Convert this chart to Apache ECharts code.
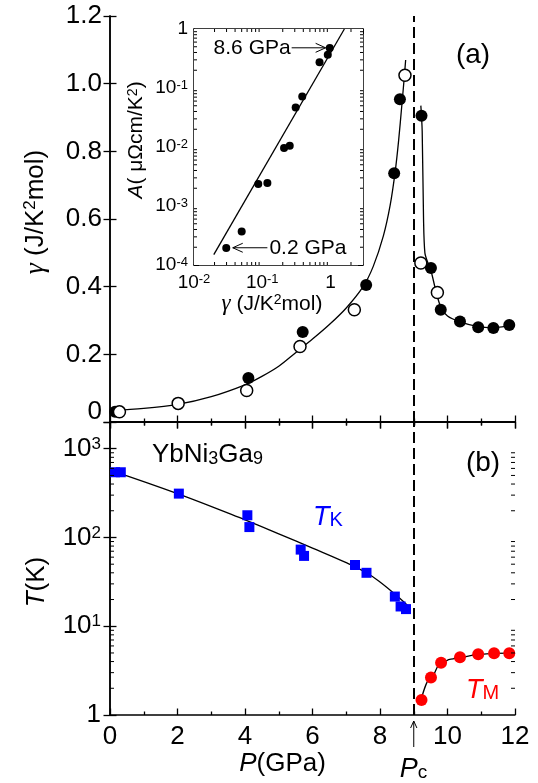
<!DOCTYPE html>
<html>
<head>
<meta charset="utf-8">
<script src="https://cdn.jsdelivr.net/npm/echarts@6/dist/echarts.min.js"></script>
<style>
  html, body { margin: 0; padding: 0; background: #fff; }
  #chart { width: 538px; height: 783px; }
</style>
</head>
<body>
<div id="chart"></div>
<script>
// (a) gamma vs pressure
var gammaFilledP = [0.15, 4.1, 5.71, 7.59, 8.42, 8.59, 9.23, 9.51, 9.8, 10.37, 10.91, 11.36, 11.83];
var gammaFilled  = [0.03, 0.13, 0.266, 0.405, 0.735, 0.954, 0.905, 0.455, 0.332, 0.297, 0.28, 0.278, 0.287];
var gammaOpenP   = [0.28, 2.02, 4.05, 5.63, 7.24, 8.74, 9.21, 9.7];
var gammaOpen    = [0.03, 0.055, 0.093, 0.223, 0.332, 1.025, 0.47, 0.383];
var fitLeftP  = [0, 1, 2, 3, 4, 4.5, 5, 5.5, 6, 6.5, 7, 7.5, 7.8, 8.1, 8.3, 8.45, 8.55, 8.65, 8.72, 8.76];
var fitLeft   = [0.033, 0.04, 0.052, 0.075, 0.11, 0.135, 0.165, 0.205, 0.245, 0.288, 0.337, 0.4, 0.46, 0.55, 0.64, 0.74, 0.83, 0.94, 1.02, 1.07];
var fitRightP = [9.21, 9.25, 9.29, 9.33, 9.42, 9.51, 9.65, 9.8, 10.0, 10.37, 10.91, 11.36, 12];
var fitRight  = [0.935, 0.86, 0.6, 0.5, 0.47, 0.447, 0.39, 0.34, 0.313, 0.296, 0.282, 0.279, 0.288];

// (b) characteristic temperatures
var tkP    = [0.15, 0.32, 2.04, 4.07, 4.13, 5.65, 5.75, 7.26, 7.6, 8.44, 8.61, 8.77];
var tk     = [543, 543, 312, 178, 131, 73, 62, 49, 40, 21.6, 16.7, 15.6];
var tkFitP = [0, 2, 4, 5, 6, 7, 7.6, 8, 8.5, 8.9];
var tkFit  = [575, 312, 158, 110, 76, 52, 40, 31.5, 22, 16];
var tmP    = [9.23, 9.51, 9.81, 10.37, 10.91, 11.38, 11.83];
var tm     = [1.48, 2.64, 3.89, 4.48, 4.84, 4.97, 4.97];
var tmFitP = [9.2, 9.5, 9.8, 10.1, 10.4, 10.9, 11.4, 12];
var tmFit  = [1.4, 2.6, 3.85, 4.25, 4.5, 4.8, 4.95, 5.0];

// inset: A vs gamma
var insetGamma = [0.0297, 0.05, 0.0875, 0.119, 0.209, 0.253, 0.309, 0.386, 0.692, 0.914, 0.977];
var insetA     = [1.94e-4, 3.7e-4, 2.36e-3, 2.45e-3, 9.6e-3, 0.0105, 0.0469, 0.072, 0.272, 0.367, 0.476];
var insetFitGamma = [0.0195, 1.6];
var insetFitA     = [1.5e-4, 1.0];

// log minor tick positions
var minorMult = [2, 3, 4, 5, 6, 7, 8, 9];
var tDecades = [1, 10, 100, 1000];
var aDecades = [1e-4, 1e-3, 1e-2, 1e-1];
var gDecades = [0.01, 0.1, 1];

var FONT = '"Liberation Sans", Arial, sans-serif';
var SERIF = '"Liberation Serif", "Times New Roman", serif';

function pairs(xs, ys) {
  return xs.map(function (x, i) { return [x, ys[i]]; });
}

function minorValues(decades, max) {
  var out = [];
  decades.forEach(function (d) {
    minorMult.forEach(function (m) {
      var v = +(d * m).toPrecision(6);
      if (v < max) out.push(v);
    });
  });
  return out;
}

function expLabel(v) {
  var e = Math.round(Math.log10(v));
  return e === 0 ? '1' : '10{e|' + e + '}';
}

// inward log minor ticks on both opposite edges of a grid.
// dir 'y': ticks for the y axis (left+right), 'x': for the x axis (bottom+top)
function minorTicks(xi, yi, dir, values, other, len) {
  return {
    type: 'custom',
    xAxisIndex: xi,
    yAxisIndex: yi,
    silent: true,
    clip: false,
    z: 10,
    data: values.map(function (v) { return dir === 'y' ? [other, v] : [v, other]; }),
    renderItem: function (params, api) {
      var cs = params.coordSys;
      var p = api.coord([api.value(0), api.value(1)]);
      var st = { stroke: '#000', lineWidth: 1 };
      var a, b;
      if (dir === 'y') {
        a = { x1: cs.x, y1: p[1], x2: cs.x + len, y2: p[1] };
        b = { x1: cs.x + cs.width, y1: p[1], x2: cs.x + cs.width - len, y2: p[1] };
      } else {
        a = { x1: p[0], y1: cs.y + cs.height, x2: p[0], y2: cs.y + cs.height - len };
        b = { x1: p[0], y1: cs.y, x2: p[0], y2: cs.y + len };
      }
      return {
        type: 'group',
        children: [
          { type: 'line', shape: a, style: st },
          { type: 'line', shape: b, style: st }
        ]
      };
    }
  };
}

var axisLine = { show: true, lineStyle: { color: '#000', width: 1.5 } };
var tick = { show: true, inside: true, length: 6.5, lineStyle: { color: '#000', width: 1.3 } };
var smallTick = { show: true, inside: true, length: 5, lineStyle: { color: '#000', width: 1 } };
var noSplit = { show: false };
var dashed = { type: [11, 5], color: '#000', width: 2 };

function pAxis(grid, pos, labels) {
  return {
    type: 'value', gridIndex: grid, position: pos, min: 0, max: 12, interval: 2,
    axisLine: axisLine, axisTick: tick,
    minorTick: { show: true, splitNumber: 2, length: 3.5, lineStyle: { color: '#000', width: 1.3 } },
    splitLine: noSplit, minorSplitLine: { show: false },
    axisLabel: { show: labels, fontSize: 26, fontFamily: FONT, color: '#000', margin: 9 }
  };
}

var chart = echarts.init(document.getElementById('chart'));

var option = {
  animation: false,
  backgroundColor: '#fff',
  grid: [
    { left: 110, top: 16, width: 405, height: 406, outerBoundsMode: 'none' },
    { left: 110, top: 422, width: 405, height: 293, outerBoundsMode: 'none' },
    { left: 194, top: 29, width: 169, height: 236, outerBoundsMode: 'none',
      show: true, backgroundColor: '#fff', borderWidth: 0, z: 3 }
  ],
  xAxis: [
    pAxis(0, 'bottom', false),
    pAxis(0, 'top', false),
    Object.assign(pAxis(1, 'bottom', true), {
      name: '{p|P}(GPa)', nameLocation: 'middle', nameGap: 34,
      nameTextStyle: {
        fontSize: 26, fontFamily: FONT, color: '#000', padding: [0, 60, 0, 0],
        rich: { p: { fontSize: 26, fontFamily: FONT, fontStyle: 'italic' } }
      }
    }),
    pAxis(1, 'top', false),
    {
      type: 'log', gridIndex: 2, position: 'bottom', min: 0.01, max: 3, logBase: 10,
      axisLine: axisLine, axisTick: smallTick, splitLine: noSplit,
      axisLabel: {
        fontSize: 19, fontFamily: FONT, color: '#000', margin: 8, showMaxLabel: false,
        formatter: expLabel,
        rich: { e: { fontSize: 13, fontFamily: FONT, verticalAlign: 'top' } }
      },
      name: '{g|γ} (J/K{s|2}mol)', nameLocation: 'middle', nameGap: 23,
      nameTextStyle: {
        fontSize: 21, fontFamily: FONT, color: '#000', padding: [0, 13, 0, 0],
        rich: {
          g: { fontSize: 23, fontFamily: SERIF, fontStyle: 'italic' },
          s: { fontSize: 14, fontFamily: FONT, verticalAlign: 'top' }
        }
      }
    },
    {
      type: 'log', gridIndex: 2, position: 'top', min: 0.01, max: 3, logBase: 10,
      axisLine: axisLine, axisTick: smallTick, splitLine: noSplit, axisLabel: { show: false }
    }
  ],
  yAxis: [
    {
      type: 'value', gridIndex: 0, position: 'left', min: 0, max: 1.2, interval: 0.2,
      axisLine: axisLine, axisTick: tick, splitLine: noSplit,
      axisLabel: {
        fontSize: 26, fontFamily: FONT, color: '#000', margin: 8,
        formatter: function (v) { return v === 0 ? '{z|0}' : v.toFixed(1); },
        rich: { z: { fontSize: 26, fontFamily: FONT, padding: [0, 0, 20, 0] } }
      },
      name: '{g|γ} (J/K{s|2}mol)', nameLocation: 'middle', nameRotate: 90, nameGap: 60,
      nameTextStyle: {
        fontSize: 26, fontFamily: FONT, color: '#000', padding: [0, 0, 0, 14],
        rich: {
          g: { fontSize: 28, fontFamily: SERIF, fontStyle: 'italic' },
          s: { fontSize: 17, fontFamily: FONT, verticalAlign: 'top' }
        }
      }
    },
    {
      type: 'value', gridIndex: 0, position: 'right', min: 0, max: 1.2, interval: 0.2,
      axisLine: axisLine, axisTick: tick, splitLine: noSplit, axisLabel: { show: false }
    },
    {
      type: 'log', gridIndex: 1, position: 'left', min: 1, max: 2000, logBase: 10,
      axisLine: axisLine, axisTick: tick, splitLine: noSplit,
      axisLabel: {
        fontSize: 26, fontFamily: FONT, color: '#000', margin: 9, showMaxLabel: false,
        formatter: expLabel,
        rich: { e: { fontSize: 17, fontFamily: FONT, verticalAlign: 'top' } }
      },
      name: '{t|T}(K)', nameLocation: 'middle', nameRotate: 90, nameGap: 60,
      nameTextStyle: {
        fontSize: 26, fontFamily: FONT, color: '#000', padding: [0, 27, 0, 0],
        rich: { t: { fontSize: 26, fontFamily: FONT, fontStyle: 'italic' } }
      }
    },
    {
      type: 'log', gridIndex: 1, position: 'right', min: 1, max: 2000, logBase: 10,
      axisLine: axisLine, axisTick: tick, splitLine: noSplit, axisLabel: { show: false }
    },
    {
      type: 'log', gridIndex: 2, position: 'left', min: 1e-4, max: 1, logBase: 10,
      axisLine: axisLine, axisTick: smallTick, splitLine: noSplit,
      axisLabel: {
        fontSize: 19, fontFamily: FONT, color: '#000', margin: 6,
        formatter: expLabel,
        rich: { e: { fontSize: 13, fontFamily: FONT, verticalAlign: 'top' } }
      },
      name: '{a|A}( μΩcm/K{s|2})', nameLocation: 'middle', nameRotate: 90, nameGap: 47,
      nameTextStyle: {
        fontSize: 21, fontFamily: FONT, color: '#000', padding: [0, 0, 0, 14],
        rich: {
          a: { fontSize: 21, fontFamily: FONT, fontStyle: 'italic' },
          s: { fontSize: 14, fontFamily: FONT, verticalAlign: 'top' }
        }
      }
    },
    {
      type: 'log', gridIndex: 2, position: 'right', min: 1e-4, max: 1, logBase: 10,
      axisLine: axisLine, axisTick: smallTick, splitLine: noSplit, axisLabel: { show: false }
    }
  ],
  series: [
    // panel (a)
    {
      type: 'line', xAxisIndex: 0, yAxisIndex: 0, data: pairs(fitLeftP, fitLeft),
      symbol: 'none', smooth: 0.3,
      lineStyle: { color: '#000', width: 1.3 }, z: 2,
      markLine: {
        silent: true, symbol: ['none', 'none'], label: { show: false },
        lineStyle: dashed, data: [{ xAxis: 9 }]
      }
    },
    {
      type: 'line', xAxisIndex: 0, yAxisIndex: 0, data: pairs(fitRightP, fitRight),
      symbol: 'none', smooth: 0.3,
      lineStyle: { color: '#000', width: 1.3 }, z: 2
    },
    {
      type: 'scatter', xAxisIndex: 0, yAxisIndex: 0, data: pairs(gammaFilledP, gammaFilled),
      symbol: 'circle', symbolSize: 12, itemStyle: { color: '#000', opacity: 1 }, z: 4
    },
    {
      type: 'scatter', xAxisIndex: 0, yAxisIndex: 0, data: pairs(gammaOpenP, gammaOpen),
      symbol: 'circle', symbolSize: 12,
      itemStyle: { color: '#fff', borderColor: '#000', borderWidth: 1.5, opacity: 1 }, z: 4
    },
    // panel (b)
    {
      type: 'line', xAxisIndex: 2, yAxisIndex: 2, data: pairs(tkFitP, tkFit),
      symbol: 'none', smooth: 0.4, lineStyle: { color: '#000', width: 1.3 }, z: 2,
      markLine: {
        silent: true, symbol: ['none', 'none'], label: { show: false },
        lineStyle: dashed, data: [{ xAxis: 9 }]
      }
    },
    {
      type: 'line', xAxisIndex: 2, yAxisIndex: 2, data: pairs(tmFitP, tmFit),
      symbol: 'none', smooth: 0.4, smoothMonotone: 'x',
      lineStyle: { color: '#000', width: 1.3 }, z: 2
    },
    {
      type: 'scatter', xAxisIndex: 2, yAxisIndex: 2, data: pairs(tkP, tk),
      symbol: 'rect', symbolSize: 10, itemStyle: { color: '#0000ff', opacity: 1 }, z: 4
    },
    {
      type: 'scatter', xAxisIndex: 2, yAxisIndex: 2, data: pairs(tmP, tm),
      symbol: 'circle', symbolSize: 12, itemStyle: { color: '#ff0000', opacity: 1 }, z: 4
    },
    minorTicks(2, 2, 'y', minorValues(tDecades, 2000), 6, 4),
    // inset
    {
      type: 'line', xAxisIndex: 4, yAxisIndex: 4, data: pairs(insetFitGamma, insetFitA),
      symbol: 'none', lineStyle: { color: '#000', width: 1.3 }, z: 6
    },
    {
      type: 'scatter', xAxisIndex: 4, yAxisIndex: 4, data: pairs(insetGamma, insetA),
      symbol: 'circle', symbolSize: 8, itemStyle: { color: '#000', opacity: 1 }, z: 7
    },
    minorTicks(4, 4, 'y', minorValues(aDecades, 1), 0.1, 3),
    minorTicks(4, 4, 'x', minorValues(gDecades, 3), 0.01, 3)
  ]
};

chart.setOption(option);

// annotations placed from data coordinates
var pcX = chart.convertToPixel({ xAxisIndex: 2 }, 9);
var baseY = chart.convertToPixel({ yAxisIndex: 2 }, 1);
var arrowHi = [chart.convertToPixel({ gridIndex: 2 }, [0.27, 0.48]), chart.convertToPixel({ gridIndex: 2 }, [0.85, 0.48])];
var arrowLo = [chart.convertToPixel({ gridIndex: 2 }, [0.119, 1.96e-4]), chart.convertToPixel({ gridIndex: 2 }, [0.037, 1.96e-4])];

function arrow(from, to, head) {
  var dx = to[0] - from[0], dy = to[1] - from[1];
  var len = Math.sqrt(dx * dx + dy * dy);
  var ux = dx / len, uy = dy / len;
  var w = head * 0.45;
  return [
    { type: 'polyline', z: 20, shape: { points: [from, to] }, style: { stroke: '#000', lineWidth: 1, fill: null } },
    { type: 'polyline', z: 20, shape: { points: [
        [to[0] - ux * head - uy * w, to[1] - uy * head + ux * w],
        to,
        [to[0] - ux * head + uy * w, to[1] - uy * head - ux * w]
      ] }, style: { stroke: '#000', lineWidth: 1, fill: null } }
  ];
}

function label(x, y, text, size, align, rich, fill) {
  return {
    type: 'text', x: x, y: y, z: 20,
    style: {
      text: text, fontSize: size, fontFamily: FONT, fill: fill || '#000',
      align: align, verticalAlign: 'middle', textAlign: align, textVerticalAlign: 'middle',
      rich: rich || {}
    }
  };
}

var graphics = [
  label(473, 55, '(a)', 28, 'center'),
  label(483, 463, '(b)', 28, 'center'),
  label(152, 455, 'YbNi{s|3}Ga{s|9}', 26, 'left', {
    s: { fontSize: 18, fontFamily: FONT, verticalAlign: 'bottom' }
  }),
  label(313, 517, '{t|T}{s|K}', 25, 'left', {
    t: { fontSize: 27, fontFamily: FONT, fontStyle: 'italic', fill: '#0000ff' },
    s: { fontSize: 20, fontFamily: FONT, verticalAlign: 'bottom', fill: '#0000ff' }
  }, '#0000ff'),
  label(466, 690, '{t|T}{s|M}', 25, 'left', {
    t: { fontSize: 27, fontFamily: FONT, fontStyle: 'italic', fill: '#ff0000' },
    s: { fontSize: 20, fontFamily: FONT, verticalAlign: 'bottom', fill: '#ff0000' }
  }, '#ff0000'),
  label(pcX - 14, 769, '{p|P}{s|c}', 26, 'left', {
    p: { fontSize: 27, fontFamily: FONT, fontStyle: 'italic' },
    s: { fontSize: 19, fontFamily: FONT, verticalAlign: 'bottom' }
  }),
  label(arrowHi[0][0] - 1, arrowHi[0][1], '8.6 GPa', 21, 'right'),
  label(arrowLo[0][0] + 2, arrowLo[0][1], '0.2 GPa', 21, 'left')
];
graphics = graphics
  .concat(arrow([pcX, baseY + 32], [pcX, baseY + 6], 7))
  .concat(arrow(arrowHi[0], arrowHi[1], 10))
  .concat(arrow(arrowLo[0], arrowLo[1], 10));

chart.setOption({ graphic: graphics });
</script>
</body>
</html>
